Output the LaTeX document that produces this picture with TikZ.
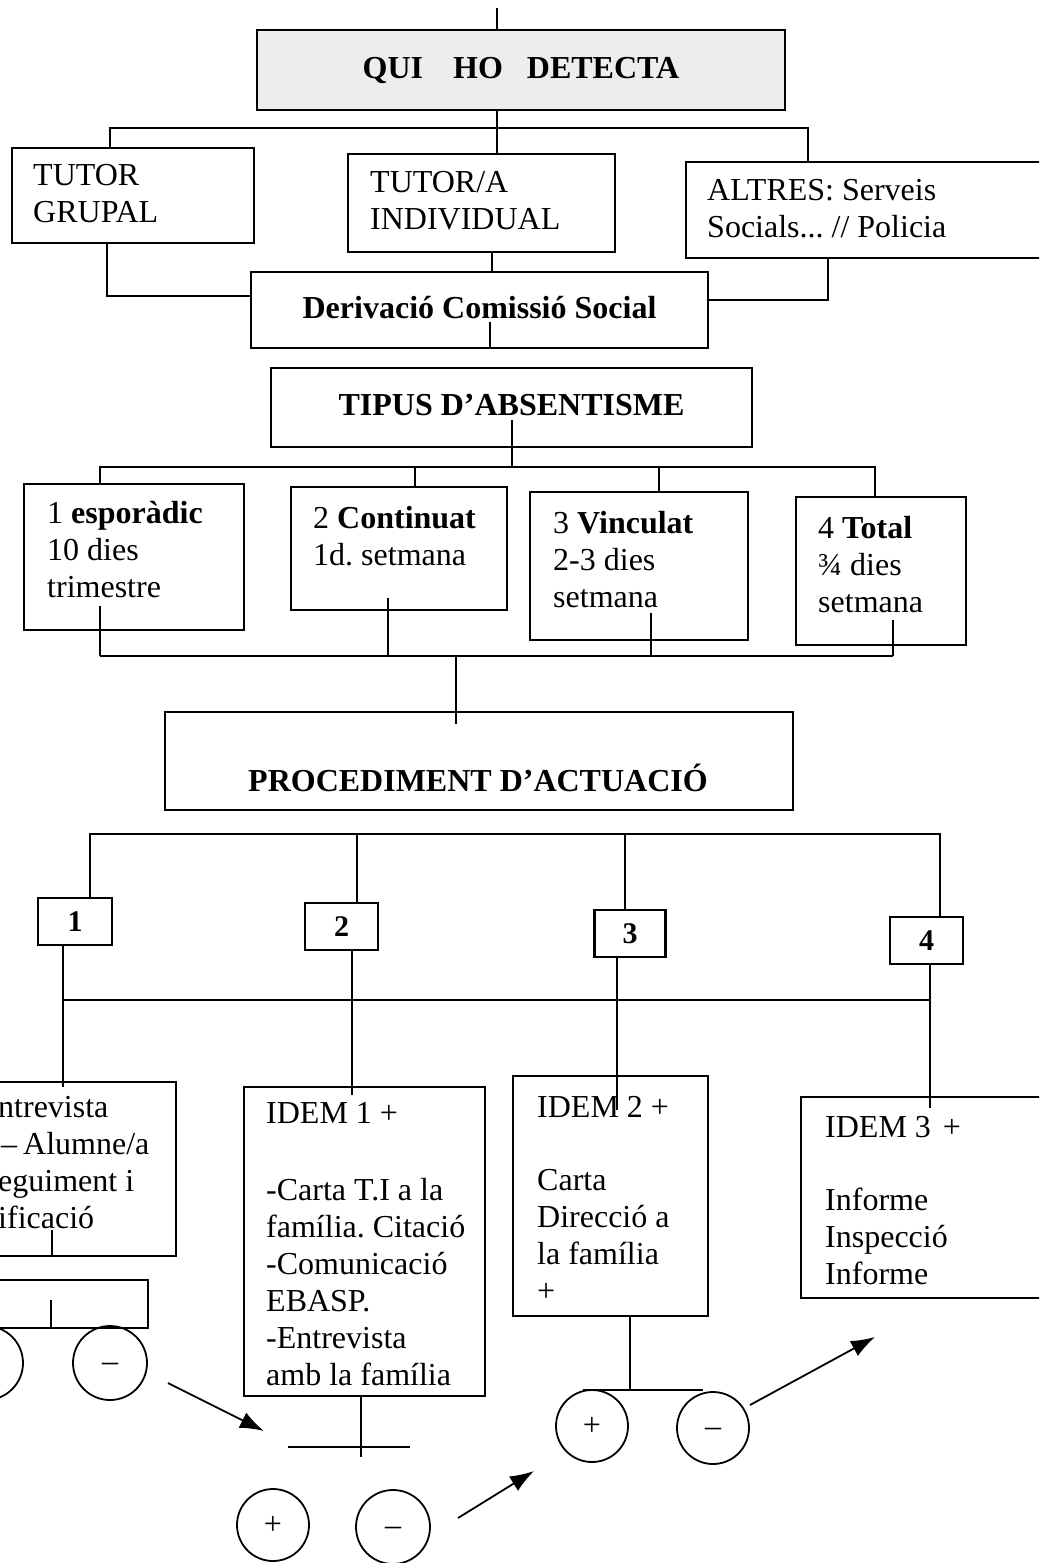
\documentclass[tikz,border=0pt]{standalone}
\usepackage{fontspec}
\setmainfont{Liberation Serif}
\usetikzlibrary{arrows.meta}
\frenchspacing
\begin{document}
\begin{tikzpicture}[x=1pt,y=-1pt,
  box/.style={draw, line width=2.2pt, inner sep=0pt},
  grayfill/.style={fill=gray!14},
  txt/.style={anchor=north west, inner sep=0pt, align=left, font=\fontsize{32}{37}\selectfont},
  ttl/.style={font=\fontsize{32}{37}\selectfont\bfseries},
  num/.style={font=\fontsize{30}{36}\selectfont\bfseries},
  ln/.style={line width=1.8pt},
  circ/.style={draw, circle, line width=1.8pt, inner sep=0pt, minimum size=74pt, font=\fontsize{32}{36}\selectfont},
  arr/.style={line width=1.8pt, -{Latex[length=24pt,width=17pt]}},
]
\useasboundingbox (0,0) rectangle (1039,1563);
\clip (0,0) rectangle (1039,1563);

% ---------- boxes ----------
\node[box, grayfill, minimum width=528pt, minimum height=80pt, ttl] (qui) at (521,70) {QUI\hspace{30pt}HO\hspace{24pt}DETECTA};
\node[box, minimum width=242pt, minimum height=95pt] (tg) at (133,195.5) {};
\node[box, minimum width=267pt, minimum height=98pt] (ti) at (481.5,203) {};
\node[box, minimum width=374pt, minimum height=96pt] (al) at (873,210) {};
\node[box, minimum width=457pt, minimum height=76pt, ttl] (der) at (479.5,310) {\raisebox{6pt}{Derivació Comissió Social}};
\node[box, minimum width=481pt, minimum height=79pt, ttl] (tip) at (511.5,407.5) {\raisebox{6pt}{TIPUS D’ABSENTISME}};
\node[box, minimum width=220pt, minimum height=146pt] (t1) at (134,557) {};
\node[box, minimum width=216pt, minimum height=123pt] (t2) at (399,548.5) {};
\node[box, minimum width=218pt, minimum height=148pt] (t3) at (639,566) {};
\node[box, minimum width=170pt, minimum height=148pt] (t4) at (881,571) {};
\node[box, minimum width=628pt, minimum height=98pt] (proc) at (479,761) {};
\node[box, minimum width=74pt, minimum height=47pt, num] (n1) at (75,921.5) {1};
\node[box, minimum width=73pt, minimum height=47pt, num] (n2) at (341.5,926.5) {2};
\node[box, minimum width=71pt, minimum height=47pt, num] (n3) at (630,933.5) {3};
\node[box, minimum width=73pt, minimum height=47pt, num] (n4) at (926.5,940.5) {4};
\node[box, minimum width=236pt, minimum height=174pt] (b1) at (58,1169) {};
\node[box, minimum width=208pt, minimum height=48pt] (b1s) at (44,1304) {};
\node[box, minimum width=241pt, minimum height=309pt] (b2) at (364.5,1241.5) {};
\node[box, minimum width=195pt, minimum height=240pt] (b3) at (610.5,1196) {};
\node[box, minimum width=259pt, minimum height=201pt] (b4) at (930.5,1197.5) {};

% ---------- texts ----------
\node[txt] (tgt) at (33,159) {\strut TUTOR\\GRUPAL};
\node[txt] (tit) at (370,166) {\strut TUTOR/A\\INDIVIDUAL};
\node[txt] (alt) at (707,174) {\strut ALTRES: Serveis\\Socials... // Policia};
\node[txt] (t1t) at (47,497) {\strut 1 \textbf{esporàdic}\\10 dies\\trimestre};
\node[txt] (t2t) at (313,502) {\strut 2 \textbf{Continuat}\\1d. setmana};
\node[txt] (t3t) at (553,507) {\strut 3 \textbf{Vinculat}\\2-3 dies\\setmana};
\node[txt] (t4t) at (818,512) {\strut 4 \textbf{Total}\\¾ dies\\setmana};
\node[ttl] (proct) at (478,778) {PROCEDIMENT D’ACTUACIÓ};
\node[txt] (b1t) at (-2,1091) {\strut ntrevista\\\hspace*{3pt}–\hspace{6pt}Alumne/a\\eguiment i\\ificació};
\node[txt] (b2t) at (266,1097) {\strut IDEM 1 +\\[40pt]-Carta T.I a la\\família. Citació\\-Comunicació\\EBASP.\\-Entrevista\\amb la família};
\node[txt] (b3t) at (537,1091) {\strut IDEM 2 +\\[36pt]Carta\\Direcció a\\la família\\+};
\node[txt] (b4t) at (825,1111) {\strut IDEM 3\hspace{12pt}+\\[36pt]Informe\\Inspecció\\Informe};

% ---------- circles ----------
\node[circ] (c1p) at (-14,1363) {};
\node[circ] (c1m) at (110,1363) {\raisebox{-16pt}{–}};
\node[circ, minimum size=72pt] (c2p) at (273,1525) {+};
\node[circ] (c2m) at (393,1527) {\raisebox{-16pt}{–}};
\node[circ, minimum size=72pt] (c3p) at (592,1426) {+};
\node[circ, minimum size=72pt] (c3m) at (713,1428) {\raisebox{-16pt}{–}};

% ---------- connectors: top ----------
\coordinate (t0) at (497,8);
\draw[ln] (t0) -- (t0 |- qui.north);
\coordinate (b1L) at (110,128);
\coordinate (b1M) at (497,128);
\coordinate (b1R) at (808,128);
\draw[ln] (b1M |- qui.south) -- (b1M);
\draw[ln] (b1L |- tg.north) -- (b1L) -- (b1R) -- (b1R |- al.north);
\draw[ln] (b1M) -- (b1M |- ti.north);

\coordinate (dL) at (107,296);
\coordinate (dM) at (492,260);
\coordinate (dR) at (828,300);
\draw[ln] (dL |- tg.south) -- (dL) -- (dL -| der.west);
\draw[ln] (dM |- ti.south) -- (dM |- der.north);
\draw[ln] (dR |- al.south) -- (dR) -- (dR -| der.east);
\coordinate (dI) at (490,322);
\draw[ln] (dI) -- (dI |- der.south);

% ---------- tipus ----------
\coordinate (tI) at (512,420);
\coordinate (b2L) at (100,467);
\coordinate (b2a) at (415,467);
\coordinate (b2b) at (659,467);
\coordinate (b2R) at (875,467);
\draw[ln] (tI) -- (tI |- b2L);
\draw[ln] (b2L |- t1.north) -- (b2L) -- (b2R) -- (b2R |- t4.north);
\draw[ln] (b2a) -- (b2a |- t2.north);
\draw[ln] (b2b) -- (b2b |- t3.north);

\coordinate (b3L) at (100,656);
\coordinate (b3R) at (893,656);
\draw[ln] (b3L) -- (b3R);
\coordinate (u1) at (100,606);
\coordinate (u2) at (388,598);
\coordinate (u3) at (651,613);
\coordinate (u4) at (893,620);
\draw[ln] (u1) -- (u1 |- b3L);
\draw[ln] (u2) -- (u2 |- b3L);
\draw[ln] (u3) -- (u3 |- b3L);
\draw[ln] (u4) -- (u4 |- b3L);
\coordinate (pc) at (456,656);
\coordinate (pe) at (456,724);
\draw[ln] (pc) -- (pe);

% ---------- procediment ----------
\coordinate (b4L) at (90,834);
\coordinate (b4a) at (357,834);
\coordinate (b4b) at (625,834);
\coordinate (b4R) at (940,834);
\draw[ln] (b4L |- n1.north) -- (b4L) -- (b4R) -- (b4R |- n4.north);
\draw[ln] (b4a) -- (b4a |- n2.north);
\draw[ln] (b4b) -- (b4b |- n3.north);

\coordinate (v1) at (63,1087);
\coordinate (v2) at (352,1095);
\coordinate (v3) at (617,1110);
\coordinate (v4) at (930,1108);
\coordinate (b5L) at (63,1000);
\coordinate (b5R) at (930,1000);
\draw[ln] (b5L) -- (b5R);
\draw[ln] (v1 |- n1.south) -- (v1);
\draw[ln] (v2 |- n2.south) -- (v2);
\draw[ln] (v3 |- n3.south) -- (v3);
\draw[ln] (v4 |- n4.south) -- (v4);

% ---------- bottom ----------
\coordinate (w1) at (52,1230);
\draw[ln] (w1) -- (w1 |- b1.south);
\coordinate (w2) at (51,1300);
\draw[ln] (w2) -- (w2 |- b1s.south);

\coordinate (x2) at (361,1457);
\draw[ln] (x2 |- b2.south) -- (x2);
\coordinate (h2a) at (288,1447);
\coordinate (h2b) at (410,1447);
\draw[ln] (h2a) -- (h2b);

\coordinate (x3) at (630,1390);
\draw[ln] (x3 |- b3.south) -- (x3);
\coordinate (h3a) at (583,1390);
\coordinate (h3b) at (703,1390);
\draw[ln] (h3a) -- (h3b);

\coordinate (a1s) at (168,1383);
\coordinate (a1e) at (264,1431);
\draw[arr] (a1s) -- (a1e);
\coordinate (a2s) at (458,1518);
\coordinate (a2e) at (534,1471);
\draw[arr] (a2s) -- (a2e);
\coordinate (a3s) at (750,1405);
\coordinate (a3e) at (875,1337);
\draw[arr] (a3s) -- (a3e);
\end{tikzpicture}
\end{document}
